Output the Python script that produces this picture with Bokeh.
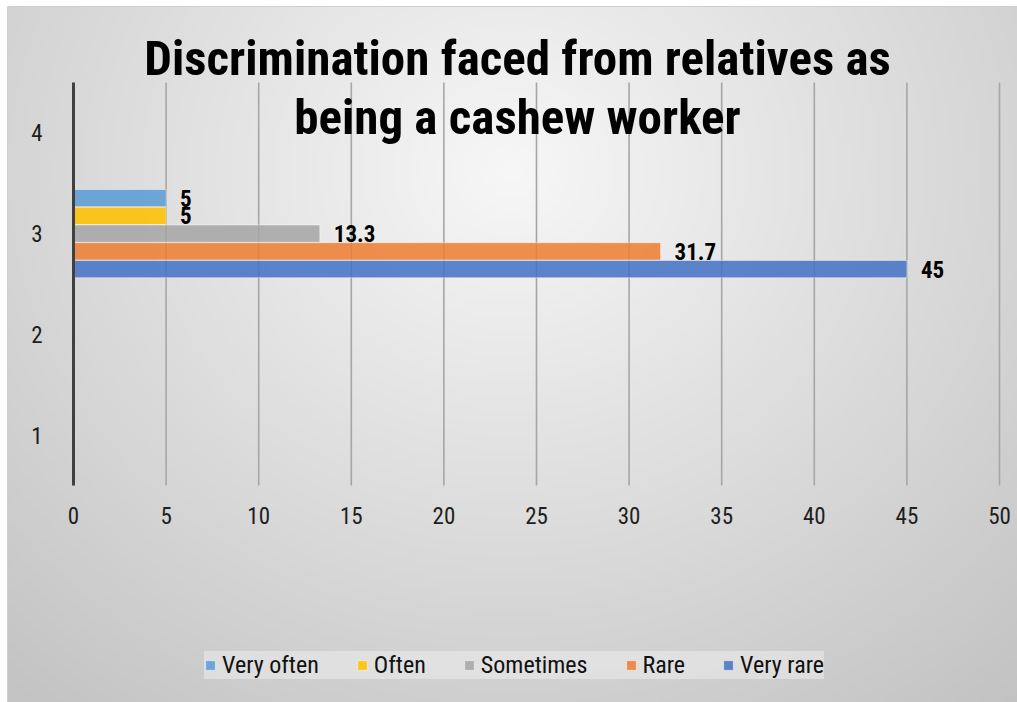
import numpy as np
from bokeh.plotting import figure
from bokeh.models import Range1d, LinearAxis, FixedTicker, Label, Legend, LegendItem
from bokeh.embed import file_html
from bokeh.resources import INLINE
from bokeh.core.properties import value

# ---------------- data ----------------
series = ["Very often", "Often", "Sometimes", "Rare", "Very rare"]
values = [5, 5, 13.3, 31.7, 45]
category = 3
y_ticks = [1, 2, 3, 4]
x_ticks = [0, 5, 10, 15, 20, 25, 30, 35, 40, 45, 50]
colors = ["#5B9BD5", "#FFC000", "#A5A5A5", "#ED7D31", "#4472C4"]
title_lines = ["Discrimination faced from relatives as", "being a cashew worker"]

# ---------------- layout ----------------
W, H = 1017, 702
X0_PX, X50_PX = 73, 999
YTOP_PX, YBOT_PX = 82, 485
sx = (X50_PX - X0_PX) / 50.0
sy = (YBOT_PX - YTOP_PX) / 4.0
xr = Range1d(-X0_PX / sx, (W - X0_PX) / sx)
yr = Range1d(0.5 - (H - YBOT_PX) / sy, 4.5 + YTOP_PX / sy)

FONT = "Roboto Condensed"

p = figure(width=W, height=H, x_range=xr, y_range=yr, output_backend="svg",
           toolbar_location=None, x_axis_location=None, y_axis_location=None,
           min_border=0, outline_line_color=None,
           background_fill_color="white", border_fill_color="white")
p.xgrid.visible = False
p.ygrid.visible = False

# background radial gradient (chart area)
BL, BT = 7, 6
nx, ny = 254, 174
pxs = BL + (np.arange(nx) + 0.5) * (W - BL) / nx
pys_top = BT + (np.arange(ny) + 0.5) * (H - BT) / ny
PX, PY = np.meshgrid(pxs, pys_top[::-1])
r = np.sqrt(((PX - 510) / 620.0) ** 2 + ((PY - 170) / 560.0) ** 2)
v = np.clip(247 - 42 * np.minimum(r, 1.3), 0, 255).astype(np.uint32)
img = (np.uint32(255) << 24) | (v << 16) | (v << 8) | v
p.image_rgba(image=[img.astype(np.uint32)], x=xr.start + BL / sx, y=yr.start,
             dw=(W - BL) / sx, dh=(H - BT) / sy)
# thin frame border of the chart area
p.segment(x0=[xr.start + BL / sx, xr.start + BL / sx], y0=[yr.start, yr.end - BT / sy],
          x1=[xr.start + BL / sx, xr.end], y1=[yr.end - BT / sy, yr.end - BT / sy],
          line_color="#cfcfcf", line_width=1)

# gridlines
gx = [t for t in x_ticks if t > 0]
p.segment(x0=gx, y0=[0.5] * len(gx), x1=gx, y1=[4.5] * len(gx),
          line_color="#a6a6a6", line_width=1.6)

# bars
offsets = [0.352, 0.176, 0.0, -0.176, -0.352]
bar_h = 0.172
items = []
for name, val, col, off in zip(series, values, colors, offsets):
    rr = p.hbar(y=[category + off], right=[val], left=0, height=bar_h,
                fill_color=col, fill_alpha=0.86, line_color="white", line_alpha=0.45,
                line_width=1)
    items.append(LegendItem(label=name, renderers=[rr]))
    p.text(x=[val], y=[category + off], text=[f"{val:g}"], x_offset=14,
           text_align="left", text_baseline="middle", text_font=value(FONT),
           text_font_style="bold", text_font_size="23px", text_color="black")

# y axis line
p.segment(x0=[0], y0=[0.5], x1=[0], y1=[4.5], line_color="#404040", line_width=3)

# axes
xa = LinearAxis(fixed_location=0.5, ticker=FixedTicker(ticks=x_ticks),
                axis_line_color=None, major_tick_line_color=None, minor_tick_line_color=None,
                major_label_standoff=15, major_label_text_font=FONT,
                major_label_text_font_size="23px", major_label_text_color="#1e1e1e")
p.add_layout(xa, "below")
ya = LinearAxis(fixed_location=0, ticker=FixedTicker(ticks=y_ticks),
                axis_line_color=None, major_tick_line_color=None, minor_tick_line_color=None,
                major_label_standoff=25, major_label_text_font=FONT,
                major_label_text_font_size="23px", major_label_text_color="#1e1e1e")
p.add_layout(ya, "left")

# title
for line, base in zip(title_lines, [73, 132]):
    p.add_layout(Label(x=517, y=H - base + 15, x_units="screen", y_units="screen", text=line,
                       text_align="center", text_baseline="alphabetic", text_font=FONT,
                       text_font_style="bold", text_font_size="49px", text_color="black"))

legend = Legend(items=items, orientation="horizontal", location=(204, 23),
                margin=0, padding=18, spacing=37, label_standoff=6,
                glyph_width=12, glyph_height=12,
                label_text_font=FONT, label_text_font_size="24px", label_text_color="#111111",
                background_fill_color="white", background_fill_alpha=0.35,
                border_line_color=None)
p.add_layout(legend)

open("out.html", "w").write(file_html(p, INLINE))
